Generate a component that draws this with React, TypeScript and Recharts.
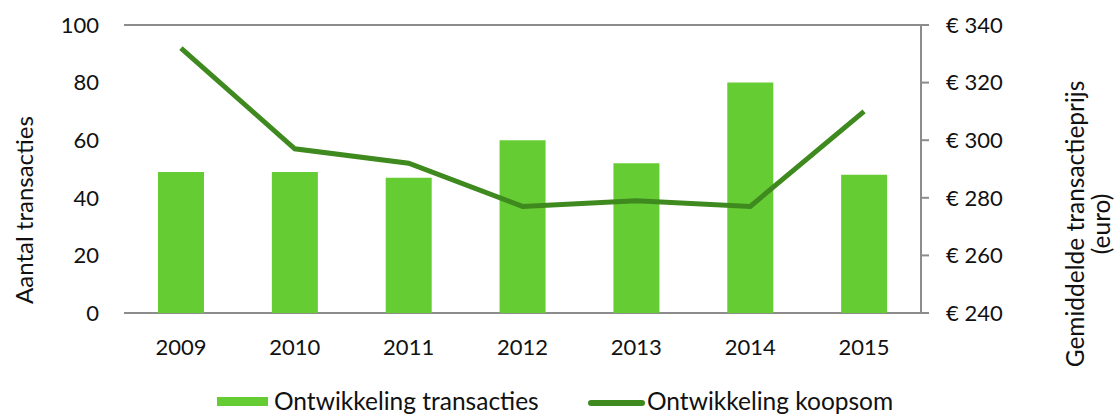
import React from "react";
import { ComposedChart, Bar, Line, XAxis, YAxis, CartesianGrid, Legend } from "recharts";

const YEARS = ["2009", "2010", "2011", "2012", "2013", "2014", "2015"];
const TRANSACTIES = [49, 49, 47, 60, 52, 80, 48];
const KOOPSOM = [332, 297, 292, 277, 279, 277, 310];
const LEFT_TICKS = [0, 20, 40, 60, 80, 100];
const RIGHT_TICKS = [240, 260, 280, 300, 320, 340];

const data = YEARS.map((year, i) => ({
  year,
  transacties: TRANSACTIES[i],
  koopsom: KOOPSOM[i],
}));

const FONT = "Lato, 'Open Sans', sans-serif";
const BAR_COLOR = "#66cc33";
const LINE_COLOR = "#3f8a1f";
const GRID_COLOR = "#8c8c8c";
const tickStyle = { fill: "#111", fontSize: 22, fontFamily: FONT };

const LegendContent = () => (
  <div style={{ position: "relative", height: 51, fontFamily: FONT, fontSize: 24.5, color: "#111" }}>
    <div style={{ position: "absolute", left: 217, top: 34, width: 51, height: 9, background: BAR_COLOR }} />
    <div style={{ position: "absolute", left: 274, top: 24, lineHeight: "28px", whiteSpace: "nowrap" }}>
      Ontwikkeling transacties
    </div>
    <div style={{ position: "absolute", left: 588, top: 37, width: 57, height: 6, borderRadius: 3, background: LINE_COLOR }} />
    <div style={{ position: "absolute", left: 647, top: 24, lineHeight: "28px", whiteSpace: "nowrap" }}>
      Ontwikkeling koopsom
    </div>
  </div>
);

const LeftLabel = () => (
  <text x={33} y={210} transform="rotate(-90 33 210)" textAnchor="middle" fontFamily={FONT} fontSize={24} fill="#111">
    Aantal transacties
  </text>
);

const RightLabel = () => (
  <text transform="rotate(-90 1084 224)" x={1084} y={224} textAnchor="middle" fontFamily={FONT} fontSize={24.5} fill="#111">
    <tspan x={1084} dy={0}>Gemiddelde transactieprijs</tspan>
    <tspan x={1084} dy={26}>(euro)</tspan>
  </text>
);

export default function App() {
  return (
    <div style={{ position: "absolute", left: 0, top: 0, background: "#fff" }}>
      <ComposedChart width={1118} height={414} data={data} margin={{ top: 25, right: 0, bottom: 0, left: 0 }}>
        <CartesianGrid vertical={false} stroke={GRID_COLOR} strokeWidth={2} />
        <XAxis
          dataKey="year"
          axisLine={false}
          tickLine={false}
          tickSize={0}
          tickMargin={26}
          height={50}
          tick={tickStyle}
        />
        <YAxis
          yAxisId="left"
          domain={[0, 100]}
          ticks={LEFT_TICKS}
          axisLine={false}
          tickLine={false}
          tickSize={0}
          tickMargin={25}
          width={124}
          tick={tickStyle}
          label={<LeftLabel />}
        />
        <YAxis
          yAxisId="right"
          orientation="right"
          domain={[240, 340]}
          ticks={RIGHT_TICKS}
          axisLine={{ stroke: GRID_COLOR, strokeWidth: 2 }}
          tickLine={{ stroke: GRID_COLOR, strokeWidth: 2 }}
          tickSize={8}
          tickMargin={17}
          width={197}
          tick={tickStyle}
          tickFormatter={(v: number) => `€ ${v}`}
          label={<RightLabel />}
        />
        <Bar yAxisId="left" dataKey="transacties" fill={BAR_COLOR} barSize={46} isAnimationActive={false} />
        <Line
          yAxisId="right"
          dataKey="koopsom"
          type="linear"
          stroke={LINE_COLOR}
          strokeWidth={5}
          dot={false}
          activeDot={false}
          isAnimationActive={false}
        />
        <Legend verticalAlign="bottom" content={<LegendContent />} wrapperStyle={{ height: 51 }} />
      </ComposedChart>
    </div>
  );
}
